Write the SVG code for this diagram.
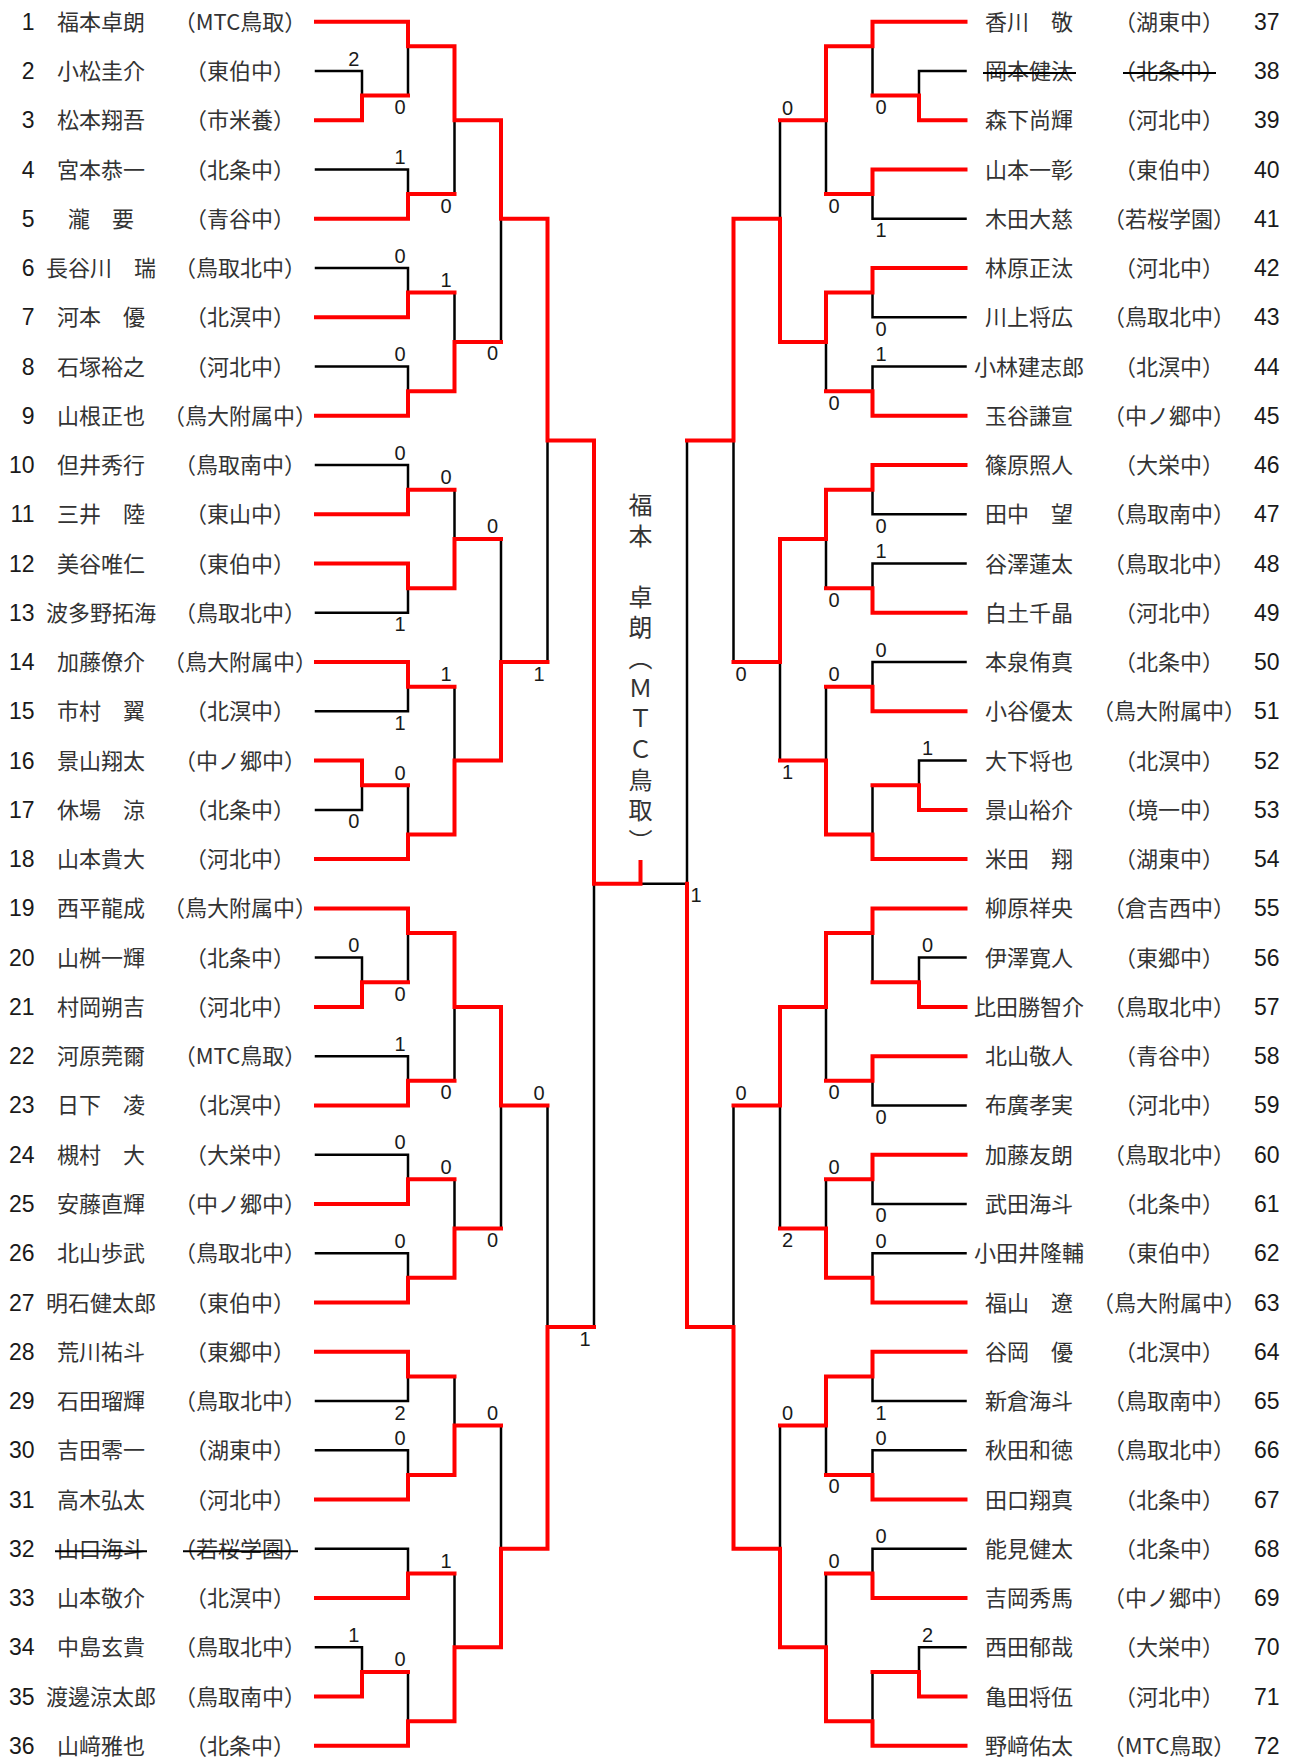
<svg xmlns="http://www.w3.org/2000/svg" width="1289" height="1760" viewBox="0 0 1289 1760">
<style>
.r{fill:none;stroke:#ff0000;stroke-width:4;stroke-linecap:square;stroke-linejoin:miter}
.b{fill:none;stroke:#000;stroke-width:2.5;stroke-linecap:square}
.st{stroke:#000;stroke-width:2}
.nl{font-family:'Liberation Sans Narrow','Liberation Sans',sans-serif;font-size:23px;fill:#1a1a1a;text-anchor:end}
.nr{font-family:'Liberation Sans Narrow','Liberation Sans',sans-serif;font-size:23px;fill:#1a1a1a;text-anchor:start}
.nm{font-family:'Noto Sans CJK JP',sans-serif;font-size:22px;fill:#333;text-anchor:middle}
.sc{font-family:'Liberation Sans Narrow','Liberation Sans',sans-serif;font-size:20px;fill:#1a1a1a;text-anchor:middle}
.ch{font-family:'Noto Sans CJK JP',sans-serif;font-size:24px;fill:#333;writing-mode:vertical-rl;letter-spacing:6.5px}
</style>
<rect width="1289" height="1760" fill="#fff"/>
<g id="connectors">
<path class="b" d="M316 71H362 M316 169.5H408 M316 268H408 M316 366.5H408 M316 465H408 M316 612.8H408 M316 711.3H408 M316 809.9H362 M316 957.6H362 M316 1056.2H408 M316 1154.7H408 M316 1253.2H408 M316 1401H408 M316 1450.2H408 M316 1548.8H408 M316 1647.3H362
M362 71V95.6 M408 46.3V95.6 M408 169.5V194.1 M454.5 120.2V194.1 M408 268V292.6 M408 366.5V391.2 M454.5 292.6V341.9 M501 218.7V341.9 M408 465V489.7 M408 588.2V612.8 M454.5 489.7V538.9 M408 686.7V711.3 M362 785.2V809.9 M408 785.2V834.5 M454.5 686.7V760.6 M501 538.9V662.1 M547.5 440.4V662.1 M362 957.6V982.3 M408 933V982.3 M408 1056.2V1080.8 M454.5 1006.9V1080.8 M408 1154.7V1179.3 M408 1253.2V1277.8 M454.5 1179.3V1228.6 M501 1105.4V1228.6 M408 1376.4V1401 M408 1450.2V1474.9 M454.5 1376.4V1425.6 M408 1548.8V1573.4 M362 1647.3V1671.9 M408 1671.9V1721.2 M454.5 1573.4V1647.3 M501 1425.6V1548.8 M547.5 1105.4V1327.1 M594 883.8V1327.1
M640.5 883.8H687
M965.5 71H919 M965.5 218.7H872.5 M965.5 317.3H872.5 M965.5 366.5H872.5 M965.5 514.3H872.5 M965.5 563.6H872.5 M965.5 662.1H872.5 M965.5 760.6H919 M965.5 957.6H919 M965.5 1105.4H872.5 M965.5 1203.9H872.5 M965.5 1253.2H872.5 M965.5 1401H872.5 M965.5 1450.2H872.5 M965.5 1548.8H872.5 M965.5 1647.3H919
M919 71V95.6 M872.5 46.3V95.6 M872.5 194.1V218.7 M826 120.2V194.1 M872.5 292.6V317.3 M872.5 366.5V391.2 M826 341.9V391.2 M780 120.2V218.7 M872.5 489.7V514.3 M872.5 563.6V588.2 M826 538.9V588.2 M872.5 662.1V686.7 M919 760.6V785.2 M872.5 785.2V834.5 M826 686.7V760.6 M780 662.1V760.6 M733.5 440.4V662.1 M919 957.6V982.3 M872.5 933V982.3 M872.5 1080.8V1105.4 M826 1006.9V1080.8 M872.5 1179.3V1203.9 M872.5 1253.2V1277.8 M826 1179.3V1228.6 M780 1105.4V1228.6 M872.5 1376.4V1401 M872.5 1450.2V1474.9 M826 1425.6V1474.9 M872.5 1548.8V1573.4 M919 1647.3V1671.9 M872.5 1671.9V1721.2 M826 1573.4V1647.3 M780 1425.6V1548.8 M733.5 1105.4V1327.1 M687 440.4V883.8"/>
<path class="r" d="M316 21.7H408 M316 120.2H362 M316 218.7H408 M316 317.3H408 M316 415.8H408 M316 514.3H408 M316 563.6H408 M316 662.1H408 M316 760.6H362 M316 859.1H408 M316 908.4H408 M316 1006.9H362 M316 1105.4H408 M316 1203.9H408 M316 1302.5H408 M316 1351.7H408 M316 1499.5H408 M316 1598H408 M316 1696.5H362 M316 1745.8H408
M362 120.2V95.6H408 M408 21.7V46.3H454.5 M408 218.7V194.1H454.5 M454.5 46.3V120.2H501 M408 317.3V292.6H454.5 M408 415.8V391.2H454.5 M454.5 391.2V341.9H501 M501 120.2V218.7H547.5 M408 514.3V489.7H454.5 M408 563.6V588.2H454.5 M454.5 588.2V538.9H501 M408 662.1V686.7H454.5 M362 760.6V785.2H408 M408 859.1V834.5H454.5 M454.5 834.5V760.6H501 M501 760.6V662.1H547.5 M547.5 218.7V440.4H594 M362 1006.9V982.3H408 M408 908.4V933H454.5 M408 1105.4V1080.8H454.5 M454.5 933V1006.9H501 M408 1203.9V1179.3H454.5 M408 1302.5V1277.8H454.5 M454.5 1277.8V1228.6H501 M501 1006.9V1105.4H547.5 M408 1351.7V1376.4H454.5 M408 1499.5V1474.9H454.5 M454.5 1474.9V1425.6H501 M408 1598V1573.4H454.5 M362 1696.5V1671.9H408 M408 1745.8V1721.2H454.5 M454.5 1721.2V1647.3H501 M501 1647.3V1548.8H547.5 M547.5 1548.8V1327.1H594 M594 440.4V883.8H640.5V862
M965.5 21.7H872.5 M965.5 120.2H919 M965.5 169.5H872.5 M965.5 268H872.5 M965.5 415.8H872.5 M965.5 465H872.5 M965.5 612.8H872.5 M965.5 711.3H872.5 M965.5 809.9H919 M965.5 859.1H872.5 M965.5 908.4H872.5 M965.5 1006.9H919 M965.5 1056.2H872.5 M965.5 1154.7H872.5 M965.5 1302.5H872.5 M965.5 1351.7H872.5 M965.5 1499.5H872.5 M965.5 1598H872.5 M965.5 1696.5H919 M965.5 1745.8H872.5
M919 120.2V95.6H872.5 M872.5 21.7V46.3H826 M872.5 169.5V194.1H826 M826 46.3V120.2H780 M872.5 268V292.6H826 M872.5 415.8V391.2H826 M826 292.6V341.9H780 M780 341.9V218.7H733.5 M872.5 465V489.7H826 M872.5 612.8V588.2H826 M826 489.7V538.9H780 M872.5 711.3V686.7H826 M919 809.9V785.2H872.5 M872.5 859.1V834.5H826 M826 834.5V760.6H780 M780 538.9V662.1H733.5 M733.5 218.7V440.4H687 M919 1006.9V982.3H872.5 M872.5 908.4V933H826 M872.5 1056.2V1080.8H826 M826 933V1006.9H780 M872.5 1154.7V1179.3H826 M872.5 1302.5V1277.8H826 M826 1277.8V1228.6H780 M780 1006.9V1105.4H733.5 M872.5 1351.7V1376.4H826 M872.5 1499.5V1474.9H826 M826 1376.4V1425.6H780 M872.5 1598V1573.4H826 M919 1696.5V1671.9H872.5 M872.5 1745.8V1721.2H826 M826 1721.2V1647.3H780 M780 1647.3V1548.8H733.5 M733.5 1548.8V1327.1H687 M687 1327.1V883.8"/>
</g>
<g id="scores">
<text class="sc" x="353.7" y="65.5">2</text><text class="sc" x="400" y="114.1">0</text><text class="sc" x="400" y="164">1</text><text class="sc" x="446" y="212.6">0</text><text class="sc" x="400" y="262.5">0</text><text class="sc" x="446" y="287.1">1</text><text class="sc" x="400" y="361">0</text><text class="sc" x="492.5" y="360.4">0</text>
<text class="sc" x="400" y="459.5">0</text><text class="sc" x="446" y="484.2">0</text><text class="sc" x="492.5" y="533.4">0</text><text class="sc" x="400" y="631.3">1</text><text class="sc" x="446" y="681.2">1</text><text class="sc" x="539" y="680.6">1</text><text class="sc" x="400" y="729.8">1</text><text class="sc" x="400" y="779.7">0</text><text class="sc" x="353.7" y="828.4">0</text>
<text class="sc" x="353.7" y="952.1">0</text><text class="sc" x="400" y="1000.8">0</text><text class="sc" x="400" y="1050.7">1</text><text class="sc" x="446" y="1099.3">0</text><text class="sc" x="539" y="1099.9">0</text><text class="sc" x="400" y="1149.2">0</text><text class="sc" x="446" y="1173.8">0</text><text class="sc" x="400" y="1247.7">0</text><text class="sc" x="492.5" y="1247.1">0</text>
<text class="sc" x="585" y="1345.6">1</text><text class="sc" x="400" y="1419.5">2</text><text class="sc" x="492.5" y="1420.1">0</text><text class="sc" x="400" y="1444.7">0</text><text class="sc" x="446" y="1567.9">1</text><text class="sc" x="353.7" y="1641.8">1</text><text class="sc" x="400" y="1666.4">0</text>
<text class="sc" x="881" y="114.1">0</text><text class="sc" x="787.5" y="114.7">0</text><text class="sc" x="834" y="212.6">0</text><text class="sc" x="881" y="237.2">1</text><text class="sc" x="881" y="335.8">0</text><text class="sc" x="881" y="361">1</text><text class="sc" x="834" y="409.7">0</text>
<text class="sc" x="881" y="532.8">0</text><text class="sc" x="881" y="558.1">1</text><text class="sc" x="834" y="606.7">0</text><text class="sc" x="741" y="680.6">0</text><text class="sc" x="881" y="656.6">0</text><text class="sc" x="834" y="681.2">0</text><text class="sc" x="927.5" y="755.1">1</text><text class="sc" x="787.5" y="779.1">1</text><text class="sc" x="696" y="902.3">1</text>
<text class="sc" x="927.5" y="952.1">0</text><text class="sc" x="741" y="1099.9">0</text><text class="sc" x="834" y="1099.3">0</text><text class="sc" x="881" y="1123.9">0</text><text class="sc" x="834" y="1173.8">0</text><text class="sc" x="881" y="1222.4">0</text><text class="sc" x="787.5" y="1247.1">2</text><text class="sc" x="881" y="1247.7">0</text>
<text class="sc" x="787.5" y="1420.1">0</text><text class="sc" x="881" y="1419.5">1</text><text class="sc" x="881" y="1444.7">0</text><text class="sc" x="834" y="1493.4">0</text><text class="sc" x="881" y="1543.3">0</text><text class="sc" x="834" y="1567.9">0</text><text class="sc" x="927.5" y="1641.8">2</text>
</g>
<g id="champion">
<text class="ch" x="640.5" y="493">福本　卓朗（ＭＴＣ鳥取）</text>
</g>
<g id="p1" transform="translate(0,21.7)"><text class="nl" x="34.5" y="8">1</text><text class="nm" x="101" y="8">福本卓朗</text><text class="nm" x="240" y="8">（MTC鳥取）</text></g>
<g id="p2" transform="translate(0,71)"><text class="nl" x="34.5" y="8">2</text><text class="nm" x="101" y="8">小松圭介</text><text class="nm" x="240" y="8">（東伯中）</text></g>
<g id="p3" transform="translate(0,120.2)"><text class="nl" x="34.5" y="8">3</text><text class="nm" x="101" y="8">松本翔吾</text><text class="nm" x="240" y="8">（市米養）</text></g>
<g id="p4" transform="translate(0,169.5)"><text class="nl" x="34.5" y="8">4</text><text class="nm" x="101" y="8">宮本恭一</text><text class="nm" x="240" y="8">（北条中）</text></g>
<g id="p5" transform="translate(0,218.7)"><text class="nl" x="34.5" y="8">5</text><text class="nm" x="101" y="8">瀧　要</text><text class="nm" x="240" y="8">（青谷中）</text></g>
<g id="p6" transform="translate(0,268)"><text class="nl" x="34.5" y="8">6</text><text class="nm" x="101" y="8">長谷川　瑞</text><text class="nm" x="240" y="8">（鳥取北中）</text></g>
<g id="p7" transform="translate(0,317.3)"><text class="nl" x="34.5" y="8">7</text><text class="nm" x="101" y="8">河本　優</text><text class="nm" x="240" y="8">（北溟中）</text></g>
<g id="p8" transform="translate(0,366.5)"><text class="nl" x="34.5" y="8">8</text><text class="nm" x="101" y="8">石塚裕之</text><text class="nm" x="240" y="8">（河北中）</text></g>
<g id="p9" transform="translate(0,415.8)"><text class="nl" x="34.5" y="8">9</text><text class="nm" x="101" y="8">山根正也</text><text class="nm" x="240" y="8">（鳥大附属中）</text></g>
<g id="p10" transform="translate(0,465)"><text class="nl" x="34.5" y="8">10</text><text class="nm" x="101" y="8">但井秀行</text><text class="nm" x="240" y="8">（鳥取南中）</text></g>
<g id="p11" transform="translate(0,514.3)"><text class="nl" x="34.5" y="8">11</text><text class="nm" x="101" y="8">三井　陸</text><text class="nm" x="240" y="8">（東山中）</text></g>
<g id="p12" transform="translate(0,563.6)"><text class="nl" x="34.5" y="8">12</text><text class="nm" x="101" y="8">美谷唯仁</text><text class="nm" x="240" y="8">（東伯中）</text></g>
<g id="p13" transform="translate(0,612.8)"><text class="nl" x="34.5" y="8">13</text><text class="nm" x="101" y="8">波多野拓海</text><text class="nm" x="240" y="8">（鳥取北中）</text></g>
<g id="p14" transform="translate(0,662.1)"><text class="nl" x="34.5" y="8">14</text><text class="nm" x="101" y="8">加藤僚介</text><text class="nm" x="240" y="8">（鳥大附属中）</text></g>
<g id="p15" transform="translate(0,711.3)"><text class="nl" x="34.5" y="8">15</text><text class="nm" x="101" y="8">市村　翼</text><text class="nm" x="240" y="8">（北溟中）</text></g>
<g id="p16" transform="translate(0,760.6)"><text class="nl" x="34.5" y="8">16</text><text class="nm" x="101" y="8">景山翔太</text><text class="nm" x="240" y="8">（中ノ郷中）</text></g>
<g id="p17" transform="translate(0,809.9)"><text class="nl" x="34.5" y="8">17</text><text class="nm" x="101" y="8">休場　涼</text><text class="nm" x="240" y="8">（北条中）</text></g>
<g id="p18" transform="translate(0,859.1)"><text class="nl" x="34.5" y="8">18</text><text class="nm" x="101" y="8">山本貴大</text><text class="nm" x="240" y="8">（河北中）</text></g>
<g id="p19" transform="translate(0,908.4)"><text class="nl" x="34.5" y="8">19</text><text class="nm" x="101" y="8">西平龍成</text><text class="nm" x="240" y="8">（鳥大附属中）</text></g>
<g id="p20" transform="translate(0,957.6)"><text class="nl" x="34.5" y="8">20</text><text class="nm" x="101" y="8">山桝一輝</text><text class="nm" x="240" y="8">（北条中）</text></g>
<g id="p21" transform="translate(0,1006.9)"><text class="nl" x="34.5" y="8">21</text><text class="nm" x="101" y="8">村岡朔吉</text><text class="nm" x="240" y="8">（河北中）</text></g>
<g id="p22" transform="translate(0,1056.2)"><text class="nl" x="34.5" y="8">22</text><text class="nm" x="101" y="8">河原莞爾</text><text class="nm" x="240" y="8">（MTC鳥取）</text></g>
<g id="p23" transform="translate(0,1105.4)"><text class="nl" x="34.5" y="8">23</text><text class="nm" x="101" y="8">日下　凌</text><text class="nm" x="240" y="8">（北溟中）</text></g>
<g id="p24" transform="translate(0,1154.7)"><text class="nl" x="34.5" y="8">24</text><text class="nm" x="101" y="8">槻村　大</text><text class="nm" x="240" y="8">（大栄中）</text></g>
<g id="p25" transform="translate(0,1203.9)"><text class="nl" x="34.5" y="8">25</text><text class="nm" x="101" y="8">安藤直輝</text><text class="nm" x="240" y="8">（中ノ郷中）</text></g>
<g id="p26" transform="translate(0,1253.2)"><text class="nl" x="34.5" y="8">26</text><text class="nm" x="101" y="8">北山歩武</text><text class="nm" x="240" y="8">（鳥取北中）</text></g>
<g id="p27" transform="translate(0,1302.5)"><text class="nl" x="34.5" y="8">27</text><text class="nm" x="101" y="8">明石健太郎</text><text class="nm" x="240" y="8">（東伯中）</text></g>
<g id="p28" transform="translate(0,1351.7)"><text class="nl" x="34.5" y="8">28</text><text class="nm" x="101" y="8">荒川祐斗</text><text class="nm" x="240" y="8">（東郷中）</text></g>
<g id="p29" transform="translate(0,1401)"><text class="nl" x="34.5" y="8">29</text><text class="nm" x="101" y="8">石田瑠輝</text><text class="nm" x="240" y="8">（鳥取北中）</text></g>
<g id="p30" transform="translate(0,1450.2)"><text class="nl" x="34.5" y="8">30</text><text class="nm" x="101" y="8">吉田零一</text><text class="nm" x="240" y="8">（湖東中）</text></g>
<g id="p31" transform="translate(0,1499.5)"><text class="nl" x="34.5" y="8">31</text><text class="nm" x="101" y="8">高木弘太</text><text class="nm" x="240" y="8">（河北中）</text></g>
<g id="p32" transform="translate(0,1548.8)"><text class="nl" x="34.5" y="8">32</text><text class="nm" x="101" y="8">山口海斗</text><text class="nm" x="240" y="8">（若桜学園）</text><line class="st" x1="55" y1="2.5" x2="147" y2="2.5"/><line class="st" x1="183" y1="2.5" x2="298" y2="2.5"/></g>
<g id="p33" transform="translate(0,1598)"><text class="nl" x="34.5" y="8">33</text><text class="nm" x="101" y="8">山本敬介</text><text class="nm" x="240" y="8">（北溟中）</text></g>
<g id="p34" transform="translate(0,1647.3)"><text class="nl" x="34.5" y="8">34</text><text class="nm" x="101" y="8">中島玄貴</text><text class="nm" x="240" y="8">（鳥取北中）</text></g>
<g id="p35" transform="translate(0,1696.5)"><text class="nl" x="34.5" y="8">35</text><text class="nm" x="101" y="8">渡邊涼太郎</text><text class="nm" x="240" y="8">（鳥取南中）</text></g>
<g id="p36" transform="translate(0,1745.8)"><text class="nl" x="34.5" y="8">36</text><text class="nm" x="101" y="8">山﨑雅也</text><text class="nm" x="240" y="8">（北条中）</text></g>
<g id="p37" transform="translate(0,21.7)"><text class="nm" x="1029" y="8">香川　敬</text><text class="nm" x="1169" y="8">（湖東中）</text><text class="nr" x="1254" y="8">37</text></g>
<g id="p38" transform="translate(0,71)"><text class="nm" x="1029" y="8">岡本健汰</text><text class="nm" x="1169" y="8">（北条中）</text><text class="nr" x="1254" y="8">38</text><line class="st" x1="983" y1="2" x2="1076" y2="2"/><line class="st" x1="1123" y1="2" x2="1216" y2="2"/></g>
<g id="p39" transform="translate(0,120.2)"><text class="nm" x="1029" y="8">森下尚輝</text><text class="nm" x="1169" y="8">（河北中）</text><text class="nr" x="1254" y="8">39</text></g>
<g id="p40" transform="translate(0,169.5)"><text class="nm" x="1029" y="8">山本一彰</text><text class="nm" x="1169" y="8">（東伯中）</text><text class="nr" x="1254" y="8">40</text></g>
<g id="p41" transform="translate(0,218.7)"><text class="nm" x="1029" y="8">木田大慈</text><text class="nm" x="1169" y="8">（若桜学園）</text><text class="nr" x="1254" y="8">41</text></g>
<g id="p42" transform="translate(0,268)"><text class="nm" x="1029" y="8">林原正汰</text><text class="nm" x="1169" y="8">（河北中）</text><text class="nr" x="1254" y="8">42</text></g>
<g id="p43" transform="translate(0,317.3)"><text class="nm" x="1029" y="8">川上将広</text><text class="nm" x="1169" y="8">（鳥取北中）</text><text class="nr" x="1254" y="8">43</text></g>
<g id="p44" transform="translate(0,366.5)"><text class="nm" x="1029" y="8">小林建志郎</text><text class="nm" x="1169" y="8">（北溟中）</text><text class="nr" x="1254" y="8">44</text></g>
<g id="p45" transform="translate(0,415.8)"><text class="nm" x="1029" y="8">玉谷謙宣</text><text class="nm" x="1169" y="8">（中ノ郷中）</text><text class="nr" x="1254" y="8">45</text></g>
<g id="p46" transform="translate(0,465)"><text class="nm" x="1029" y="8">篠原照人</text><text class="nm" x="1169" y="8">（大栄中）</text><text class="nr" x="1254" y="8">46</text></g>
<g id="p47" transform="translate(0,514.3)"><text class="nm" x="1029" y="8">田中　望</text><text class="nm" x="1169" y="8">（鳥取南中）</text><text class="nr" x="1254" y="8">47</text></g>
<g id="p48" transform="translate(0,563.6)"><text class="nm" x="1029" y="8">谷澤蓮太</text><text class="nm" x="1169" y="8">（鳥取北中）</text><text class="nr" x="1254" y="8">48</text></g>
<g id="p49" transform="translate(0,612.8)"><text class="nm" x="1029" y="8">白土千晶</text><text class="nm" x="1169" y="8">（河北中）</text><text class="nr" x="1254" y="8">49</text></g>
<g id="p50" transform="translate(0,662.1)"><text class="nm" x="1029" y="8">本泉侑真</text><text class="nm" x="1169" y="8">（北条中）</text><text class="nr" x="1254" y="8">50</text></g>
<g id="p51" transform="translate(0,711.3)"><text class="nm" x="1029" y="8">小谷優太</text><text class="nm" x="1169" y="8">（鳥大附属中）</text><text class="nr" x="1254" y="8">51</text></g>
<g id="p52" transform="translate(0,760.6)"><text class="nm" x="1029" y="8">大下将也</text><text class="nm" x="1169" y="8">（北溟中）</text><text class="nr" x="1254" y="8">52</text></g>
<g id="p53" transform="translate(0,809.9)"><text class="nm" x="1029" y="8">景山裕介</text><text class="nm" x="1169" y="8">（境一中）</text><text class="nr" x="1254" y="8">53</text></g>
<g id="p54" transform="translate(0,859.1)"><text class="nm" x="1029" y="8">米田　翔</text><text class="nm" x="1169" y="8">（湖東中）</text><text class="nr" x="1254" y="8">54</text></g>
<g id="p55" transform="translate(0,908.4)"><text class="nm" x="1029" y="8">柳原祥央</text><text class="nm" x="1169" y="8">（倉吉西中）</text><text class="nr" x="1254" y="8">55</text></g>
<g id="p56" transform="translate(0,957.6)"><text class="nm" x="1029" y="8">伊澤寛人</text><text class="nm" x="1169" y="8">（東郷中）</text><text class="nr" x="1254" y="8">56</text></g>
<g id="p57" transform="translate(0,1006.9)"><text class="nm" x="1029" y="8">比田勝智介</text><text class="nm" x="1169" y="8">（鳥取北中）</text><text class="nr" x="1254" y="8">57</text></g>
<g id="p58" transform="translate(0,1056.2)"><text class="nm" x="1029" y="8">北山敬人</text><text class="nm" x="1169" y="8">（青谷中）</text><text class="nr" x="1254" y="8">58</text></g>
<g id="p59" transform="translate(0,1105.4)"><text class="nm" x="1029" y="8">布廣孝実</text><text class="nm" x="1169" y="8">（河北中）</text><text class="nr" x="1254" y="8">59</text></g>
<g id="p60" transform="translate(0,1154.7)"><text class="nm" x="1029" y="8">加藤友朗</text><text class="nm" x="1169" y="8">（鳥取北中）</text><text class="nr" x="1254" y="8">60</text></g>
<g id="p61" transform="translate(0,1203.9)"><text class="nm" x="1029" y="8">武田海斗</text><text class="nm" x="1169" y="8">（北条中）</text><text class="nr" x="1254" y="8">61</text></g>
<g id="p62" transform="translate(0,1253.2)"><text class="nm" x="1029" y="8">小田井隆輔</text><text class="nm" x="1169" y="8">（東伯中）</text><text class="nr" x="1254" y="8">62</text></g>
<g id="p63" transform="translate(0,1302.5)"><text class="nm" x="1029" y="8">福山　遼</text><text class="nm" x="1169" y="8">（鳥大附属中）</text><text class="nr" x="1254" y="8">63</text></g>
<g id="p64" transform="translate(0,1351.7)"><text class="nm" x="1029" y="8">谷岡　優</text><text class="nm" x="1169" y="8">（北溟中）</text><text class="nr" x="1254" y="8">64</text></g>
<g id="p65" transform="translate(0,1401)"><text class="nm" x="1029" y="8">新倉海斗</text><text class="nm" x="1169" y="8">（鳥取南中）</text><text class="nr" x="1254" y="8">65</text></g>
<g id="p66" transform="translate(0,1450.2)"><text class="nm" x="1029" y="8">秋田和徳</text><text class="nm" x="1169" y="8">（鳥取北中）</text><text class="nr" x="1254" y="8">66</text></g>
<g id="p67" transform="translate(0,1499.5)"><text class="nm" x="1029" y="8">田口翔真</text><text class="nm" x="1169" y="8">（北条中）</text><text class="nr" x="1254" y="8">67</text></g>
<g id="p68" transform="translate(0,1548.8)"><text class="nm" x="1029" y="8">能見健太</text><text class="nm" x="1169" y="8">（北条中）</text><text class="nr" x="1254" y="8">68</text></g>
<g id="p69" transform="translate(0,1598)"><text class="nm" x="1029" y="8">吉岡秀馬</text><text class="nm" x="1169" y="8">（中ノ郷中）</text><text class="nr" x="1254" y="8">69</text></g>
<g id="p70" transform="translate(0,1647.3)"><text class="nm" x="1029" y="8">西田郁哉</text><text class="nm" x="1169" y="8">（大栄中）</text><text class="nr" x="1254" y="8">70</text></g>
<g id="p71" transform="translate(0,1696.5)"><text class="nm" x="1029" y="8">亀田将伍</text><text class="nm" x="1169" y="8">（河北中）</text><text class="nr" x="1254" y="8">71</text></g>
<g id="p72" transform="translate(0,1745.8)"><text class="nm" x="1029" y="8">野﨑佑太</text><text class="nm" x="1169" y="8">（MTC鳥取）</text><text class="nr" x="1254" y="8">72</text></g>
</svg>
